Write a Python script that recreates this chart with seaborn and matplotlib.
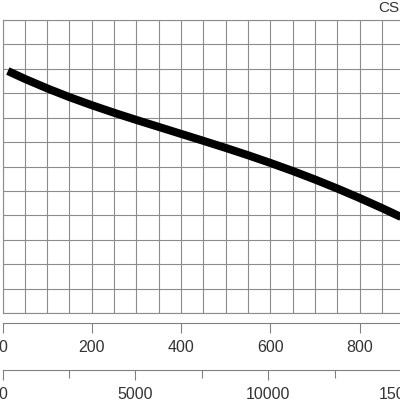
import matplotlib
matplotlib.use("Agg")
import matplotlib.pyplot as plt
import seaborn as sns
import numpy as np
import pandas as pd

# data (flow in m3/h, head in grid units)
flow = [12, 50, 100, 150, 200, 250, 300, 350, 400, 450, 500, 550, 600, 650, 700, 750, 800, 850, 900]
head = [9.91, 9.59, 9.20, 8.84, 8.51, 8.20, 7.905, 7.62, 7.335, 7.05, 6.76, 6.46, 6.145, 5.815, 5.465, 5.095, 4.705, 4.295, 3.865]
axis1_ticks = [0, 200, 400, 600, 800]
axis2_ticks = [0, 5000, 10000, 15000]
axis2_minor = [2500, 7500, 12500]
title_text = "CS"

sns.set_theme(style="white")
plt.rcParams['font.family'] = ['Liberation Sans', 'DejaVu Sans']

W = H = 400
fig = plt.figure(figsize=(4, 4), dpi=100)
fig.patch.set_facecolor("white")

px = 0.4466  # pixels per flow unit
xmax = 893
left = 2.5 / W
width = xmax * px / W
top_px, bot_px = 20, 313

ax = fig.add_axes([left, 1 - bot_px / H, width, (bot_px - top_px) / H])
ax.set_xlim(0, xmax)
ax.set_ylim(0, 12)
ax.set_xticks(np.arange(0, xmax, 50))
ax.set_yticks(np.arange(0, 13, 1))
ax.tick_params(length=0, labelbottom=False, labelleft=False)
ax.grid(True, color="#8c8c8c", linewidth=0.8)
for s in ["top", "left", "bottom"]:
    ax.spines[s].set_color("#8c8c8c")
    ax.spines[s].set_linewidth(0.8)
ax.spines["right"].set_visible(False)

df = pd.DataFrame({"flow": flow, "head": head})
sns.lineplot(data=df, x="flow", y="head", ax=ax, color="black", linewidth=5.8,
             solid_capstyle="butt", solid_joinstyle="round")
ax.set_xlabel("")
ax.set_ylabel("")

def make_axis(y_px, lim, major, minor=None):
    a = fig.add_axes([left, 1 - y_px / H, width, 0.0001])
    a.set_xlim(0, lim)
    a.set_ylim(0, 1)
    a.patch.set_visible(False)
    for s in ["top", "left", "right"]:
        a.spines[s].set_visible(False)
    a.spines["bottom"].set_color("#808080")
    a.spines["bottom"].set_linewidth(0.8)
    a.set_yticks([])
    a.set_xticks(major)
    a.set_xticklabels([str(v) for v in major])
    if minor:
        a.set_xticks(minor, minor=True)
        a.tick_params(axis="x", which="minor", bottom=True, length=5.5, width=0.8,
                      color="#808080", direction="out")
    a.tick_params(axis="x", which="major", bottom=True, length=7.5, width=0.8, color="#808080",
                  direction="out", labelsize=11.5, labelcolor="#333333", pad=5)
    a.grid(False)
    return a

make_axis(323, xmax, axis1_ticks)
make_axis(370, xmax * 1000 / 60, axis2_ticks, axis2_minor)

fig.text(378 / W, 1 - 8 / H, title_text, ha="left", va="center", fontsize=11, color="#333333")

fig.savefig("out.png", dpi=100, facecolor="white")
